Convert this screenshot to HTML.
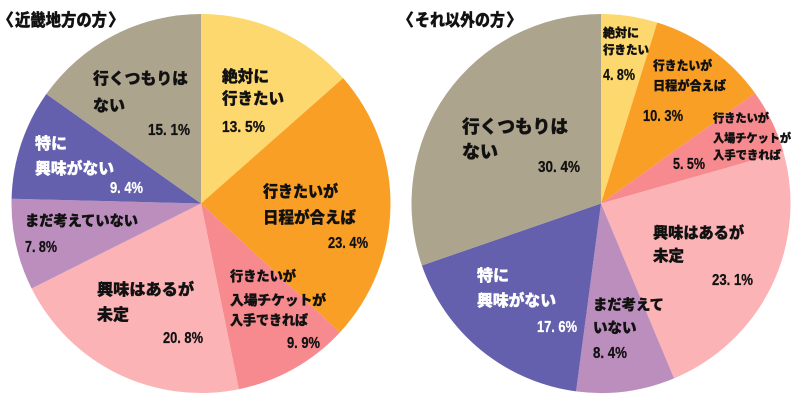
<!DOCTYPE html>
<html>
<head>
<meta charset="utf-8">
<style>
html,body{margin:0;padding:0;background:#fff;}
svg{display:block;}
text{font-family:"Liberation Sans","Noto Sans CJK JP",sans-serif;font-weight:bold;fill:#111;stroke:#111;stroke-width:0.35px;}
.j{font-family:"Noto Sans CJK JP","Liberation Sans",sans-serif;font-weight:900;}
.p{font-family:"Liberation Sans",sans-serif;font-size:16px;stroke-width:0.25px;}
.w{fill:#fff;stroke:#fff;}
</style>
</head>
<body>
<svg width="800" height="400" viewBox="0 0 800 400" xmlns="http://www.w3.org/2000/svg">
<rect width="800" height="400" fill="#fff"/>
<!-- Left pie: cx 201, cy 203.5, r 189.5 -->
<g>
<path d="M201,203.5 L201,14 A189.5,189.5 0 0 1 343.15,78.18 Z" fill="#FDD86E"/>
<path d="M201,203.5 L343.15,78.18 A189.5,189.5 0 0 1 339.96,332.34 Z" fill="#F99F26"/>
<path d="M201,203.5 L339.96,332.34 A189.5,189.5 0 0 1 238.84,389.19 Z" fill="#F78A8E"/>
<path d="M201,203.5 L238.84,389.19 A189.5,189.5 0 0 1 31.61,288.47 Z" fill="#FBB3B5"/>
<path d="M201,203.5 L31.61,288.47 A189.5,189.5 0 0 1 11.56,198.74 Z" fill="#BC8EBE"/>
<path d="M201,203.5 L11.56,198.74 A189.5,189.5 0 0 1 46.31,94.04 Z" fill="#6460AE"/>
<path d="M201,203.5 L46.31,94.04 A189.5,189.5 0 0 1 201,14 Z" fill="#ADA48E"/>
</g>
<!-- Right pie: cx 601, cy 203.5, r 189.5 -->
<g>
<path d="M601,203.5 L601,14 A189.5,189.5 0 0 1 657.28,22.55 Z" fill="#FDD86E"/>
<path d="M601,203.5 L657.28,22.55 A189.5,189.5 0 0 1 755.03,93.10 Z" fill="#F99F26"/>
<path d="M601,203.5 L755.03,93.10 A189.5,189.5 0 0 1 783.30,151.78 Z" fill="#F78A8E"/>
<path d="M601,203.5 L783.30,151.78 A189.5,189.5 0 0 1 674.07,378.35 Z" fill="#FBB3B5"/>
<path d="M601,203.5 L674.07,378.35 A189.5,189.5 0 0 1 576.06,391.35 Z" fill="#BC8EBE"/>
<path d="M601,203.5 L576.06,391.35 A189.5,189.5 0 0 1 421.90,265.45 Z" fill="#6460AE"/>
<path d="M601,203.5 L421.90,265.45 A189.5,189.5 0 0 1 601,14 Z" fill="#ADA48E"/>
</g>

<!-- Titles -->
<text class="j" x="14" y="26" font-size="17" text-anchor="end">〈</text>
<text class="j" x="15" y="26" font-size="17" textLength="92" lengthAdjust="spacingAndGlyphs">近畿地方の方</text>
<text class="j" x="108" y="26" font-size="17">〉</text>

<text class="j" x="414" y="26" font-size="17" text-anchor="end">〈</text>
<text class="j" x="415" y="26" font-size="17" textLength="90" lengthAdjust="spacingAndGlyphs">それ以外の方</text>
<text class="j" x="506" y="26" font-size="17">〉</text>

<!-- Left labels -->
<text class="j" x="222" y="82" font-size="16" textLength="47" lengthAdjust="spacingAndGlyphs">絶対に</text>
<text class="j" x="222" y="104" font-size="16" textLength="62" lengthAdjust="spacingAndGlyphs">行きたい</text>
<text class="p" x="222" y="132" textLength="43" lengthAdjust="spacingAndGlyphs">13. 5%</text>

<text class="j" x="93" y="84" font-size="16" textLength="95" lengthAdjust="spacingAndGlyphs">行くつもりは</text>
<text class="j" x="93" y="111" font-size="16">ない</text>
<text class="p" x="148" y="135" textLength="42" lengthAdjust="spacingAndGlyphs">15. 1%</text>

<text class="j w" x="35" y="149" font-size="16">特に</text>
<text class="j w" x="35" y="174" font-size="16" textLength="79" lengthAdjust="spacingAndGlyphs">興味がない</text>
<text class="p w" x="110" y="193" textLength="33" lengthAdjust="spacingAndGlyphs">9. 4%</text>

<text class="j" x="263" y="197" font-size="16" textLength="75" lengthAdjust="spacingAndGlyphs">行きたいが</text>
<text class="j" x="263" y="223" font-size="16" textLength="93" lengthAdjust="spacingAndGlyphs">日程が合えば</text>
<text class="p" x="328" y="248" textLength="40" lengthAdjust="spacingAndGlyphs">23. 4%</text>

<text class="j" x="230" y="281" font-size="13.5" textLength="66" lengthAdjust="spacingAndGlyphs">行きたいが</text>
<text class="j" x="230" y="305" font-size="13.5" textLength="96" lengthAdjust="spacingAndGlyphs">入場チケットが</text>
<text class="j" x="230" y="325" font-size="13.5" textLength="78" lengthAdjust="spacingAndGlyphs">入手できれば</text>
<text class="p" x="287" y="348" textLength="33" lengthAdjust="spacingAndGlyphs">9. 9%</text>

<text class="j" x="97" y="295" font-size="16" textLength="97" lengthAdjust="spacingAndGlyphs">興味はあるが</text>
<text class="j" x="97" y="320" font-size="16">未定</text>
<text class="p" x="163" y="343" textLength="40" lengthAdjust="spacingAndGlyphs">20. 8%</text>

<text class="j" x="25" y="226" font-size="14.5" textLength="113" lengthAdjust="spacingAndGlyphs">まだ考えていない</text>
<text class="p" x="25" y="252" textLength="32" lengthAdjust="spacingAndGlyphs">7. 8%</text>

<!-- Right labels -->
<text class="j" x="603" y="37" font-size="12" textLength="36" lengthAdjust="spacingAndGlyphs">絶対に</text>
<text class="j" x="603" y="54" font-size="12" textLength="46" lengthAdjust="spacingAndGlyphs">行きたい</text>
<text class="p" x="603" y="80" textLength="32" lengthAdjust="spacingAndGlyphs">4. 8%</text>

<text class="j" x="653" y="70" font-size="12.5" textLength="59" lengthAdjust="spacingAndGlyphs">行きたいが</text>
<text class="j" x="653" y="90" font-size="12.5" textLength="73" lengthAdjust="spacingAndGlyphs">日程が合えば</text>
<text class="p" x="643" y="121" textLength="40" lengthAdjust="spacingAndGlyphs">10. 3%</text>

<text class="j" x="713" y="122" font-size="11.5" textLength="56" lengthAdjust="spacingAndGlyphs">行きたいが</text>
<text class="j" x="713" y="142" font-size="11.5" textLength="78" lengthAdjust="spacingAndGlyphs">入場チケットが</text>
<text class="j" x="713" y="159" font-size="11.5" textLength="68" lengthAdjust="spacingAndGlyphs">入手できれば</text>
<text class="p" x="673" y="169" textLength="32" lengthAdjust="spacingAndGlyphs">5. 5%</text>

<text class="j" x="462" y="133" font-size="18" textLength="106" lengthAdjust="spacingAndGlyphs">行くつもりは</text>
<text class="j" x="462" y="158" font-size="18">ない</text>
<text class="p" x="538" y="172" textLength="42" lengthAdjust="spacingAndGlyphs">30. 4%</text>

<text class="j" x="653" y="238" font-size="15.5" textLength="91" lengthAdjust="spacingAndGlyphs">興味はあるが</text>
<text class="j" x="653" y="261" font-size="15.5">未定</text>
<text class="p" x="712" y="285" textLength="41" lengthAdjust="spacingAndGlyphs">23. 1%</text>

<text class="j w" x="477" y="281" font-size="16">特に</text>
<text class="j w" x="477" y="306" font-size="16" textLength="79" lengthAdjust="spacingAndGlyphs">興味がない</text>
<text class="p w" x="537" y="332" textLength="40" lengthAdjust="spacingAndGlyphs">17. 6%</text>

<text class="j" x="593" y="310" font-size="14.5" textLength="71" lengthAdjust="spacingAndGlyphs">まだ考えて</text>
<text class="j" x="593" y="333" font-size="14.5">いない</text>
<text class="p" x="593" y="358" textLength="34" lengthAdjust="spacingAndGlyphs">8. 4%</text>
</svg>
</body>
</html>
